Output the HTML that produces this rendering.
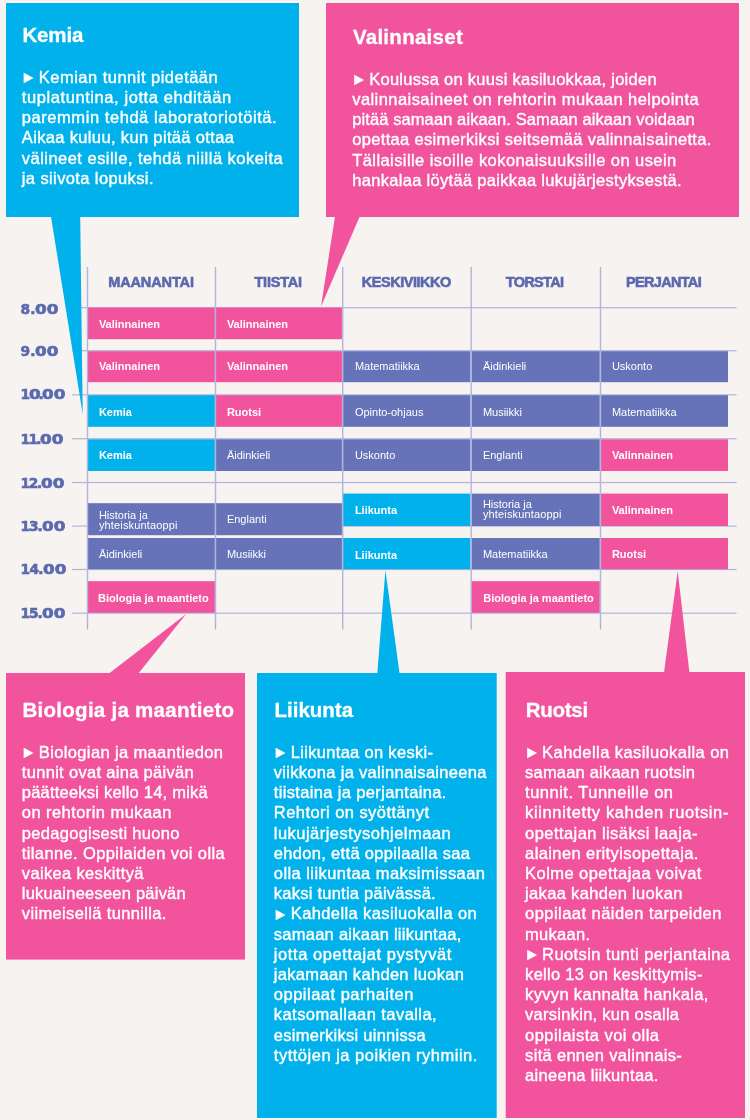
<!DOCTYPE html>
<html lang="fi">
<head>
<meta charset="utf-8">
<title>Lukujärjestys</title>
<style>

html,body,p,h2,section,div{margin:0;padding:0}
body{width:750px;height:1120px;background:#f6f3f1;position:relative;overflow:hidden;font-family:"Liberation Sans",sans-serif;color:#fff}
svg.shapes{position:absolute;left:0;top:0;width:750px;height:1120px}
.t{position:absolute;white-space:nowrap;line-height:1;margin:0}
.h{font-weight:700;font-size:20.5px;-webkit-text-stroke:0.3px #fff}
.p{font-size:16.5px;-webkit-text-stroke:0.4px #fff}
.z{display:inline-block;letter-spacing:0;transform:scaleX(1.22);transform-origin:0 50%}
.p.a{font-size:16.4px;-webkit-text-stroke:0;transform:scaleY(1.07);transform-origin:50% 100%}
.c{font-size:11px}
.c.b{font-weight:700}
.d{font-weight:700;font-size:14.5px;color:#5b69af;-webkit-text-stroke:0.6px #5b69af}
.k{font-family:"DejaVu Sans","Liberation Sans",sans-serif;font-weight:700;font-size:13.8px;color:#5b69af;-webkit-text-stroke:0.6px #5b69af}

</style>
</head>
<body>
<svg class="shapes" viewBox="0 0 750 1120" width="750" height="1120" aria-hidden="true">
<rect x="72" y="307.10" width="664.6" height="1.2" fill="#b2b4de"/>
<rect x="72" y="350.10" width="664.6" height="1.2" fill="#b2b4de"/>
<rect x="72" y="394.20" width="664.6" height="1.2" fill="#b2b4de"/>
<rect x="72" y="438.10" width="664.6" height="1.2" fill="#b2b4de"/>
<rect x="72" y="481.90" width="664.6" height="1.2" fill="#b2b4de"/>
<rect x="72" y="525.50" width="664.6" height="1.2" fill="#b2b4de"/>
<rect x="72" y="568.90" width="664.6" height="1.2" fill="#b2b4de"/>
<rect x="72" y="612.60" width="664.6" height="1.2" fill="#b2b4de"/>
<rect x="87.5" y="307.6" width="127.40" height="31.60" fill="#f1539c"/>
<rect x="215.5" y="307.6" width="126.40" height="31.60" fill="#f1539c"/>
<rect x="87.5" y="351.2" width="127.40" height="31.00" fill="#f1539c"/>
<rect x="215.5" y="351.2" width="126.40" height="31.00" fill="#f1539c"/>
<rect x="342.7" y="351.2" width="127.80" height="31.00" fill="#6673b9"/>
<rect x="471.2" y="351.2" width="128.60" height="31.00" fill="#6673b9"/>
<rect x="600.5" y="351.2" width="127.50" height="31.00" fill="#6673b9"/>
<rect x="87.5" y="395.2" width="127.40" height="31.60" fill="#00b1eb"/>
<rect x="215.5" y="395.2" width="126.40" height="31.60" fill="#f1539c"/>
<rect x="342.7" y="395.2" width="127.80" height="31.60" fill="#6673b9"/>
<rect x="471.2" y="395.2" width="128.60" height="31.60" fill="#6673b9"/>
<rect x="600.5" y="395.2" width="127.50" height="31.60" fill="#6673b9"/>
<rect x="87.5" y="439.3" width="127.40" height="31.70" fill="#00b1eb"/>
<rect x="215.5" y="439.3" width="126.40" height="31.70" fill="#6673b9"/>
<rect x="342.7" y="439.3" width="127.80" height="31.70" fill="#6673b9"/>
<rect x="471.2" y="439.3" width="128.60" height="31.70" fill="#6673b9"/>
<rect x="600.5" y="439.3" width="127.50" height="31.70" fill="#f1539c"/>
<rect x="87.5" y="503.2" width="127.40" height="32.00" fill="#6673b9"/>
<rect x="215.5" y="503.2" width="126.40" height="32.00" fill="#6673b9"/>
<rect x="342.7" y="493.6" width="127.80" height="32.40" fill="#00b1eb"/>
<rect x="471.2" y="493.6" width="128.60" height="32.40" fill="#6673b9"/>
<rect x="600.5" y="493.6" width="127.50" height="32.40" fill="#f1539c"/>
<rect x="87.5" y="538" width="127.40" height="31.20" fill="#6673b9"/>
<rect x="215.5" y="538" width="126.40" height="31.20" fill="#6673b9"/>
<rect x="342.7" y="538" width="127.80" height="31.20" fill="#00b1eb"/>
<rect x="471.2" y="538" width="128.60" height="31.20" fill="#6673b9"/>
<rect x="600.5" y="538" width="127.50" height="31.20" fill="#f1539c"/>
<rect x="87.5" y="581.2" width="127.40" height="31.60" fill="#f1539c"/>
<rect x="471.2" y="581.2" width="128.60" height="31.60" fill="#f1539c"/>
<rect x="86.80" y="267" width="1.4" height="362.6" fill="#b2b4de"/>
<rect x="214.80" y="267" width="1.4" height="362.6" fill="#b2b4de"/>
<rect x="342.00" y="267" width="1.4" height="362.6" fill="#b2b4de"/>
<rect x="470.50" y="267" width="1.4" height="362.6" fill="#b2b4de"/>
<rect x="599.80" y="267" width="1.4" height="362.6" fill="#b2b4de"/>
<rect x="6" y="3" width="293" height="214" fill="#00b1eb"/>
<polygon points="51,216.5 80.2,216.5 82.7,414" fill="#00b1eb"/>
<rect x="326" y="3" width="413" height="214" fill="#f1539c"/>
<polygon points="335,216.5 359.7,216.5 321,306.5" fill="#f1539c"/>
<rect x="6" y="673" width="239" height="286.6" fill="#f1539c"/>
<polygon points="109,673.5 138.3,673.5 186.2,614" fill="#f1539c"/>
<rect x="257" y="673" width="239.7" height="445" fill="#00b1eb"/>
<polygon points="377.3,673.5 399.6,673.5 385.4,570.2" fill="#00b1eb"/>
<rect x="505.7" y="672" width="239.3" height="446" fill="#f1539c"/>
<polygon points="664,672.5 689.4,672.5 677.7,571" fill="#f1539c"/>
</svg>
<div class="table">
<span class="t d" style="left:108.20px;top:275px;letter-spacing:-0.115px">MAANANTAI</span>
<span class="t d" style="left:254.40px;top:275px;letter-spacing:-0.196px">TIISTAI</span>
<span class="t d" style="left:361.80px;top:275px;letter-spacing:-0.467px">KESKIVIIKKO</span>
<span class="t d" style="left:505.70px;top:275px;letter-spacing:-0.652px">TORSTAI</span>
<span class="t d" style="left:626.00px;top:275px;letter-spacing:-0.676px">PERJANTAI</span>
<span class="t k" style="left:20.60px;top:303px;letter-spacing:0.02px">8.<span class="z">00</span></span>
<span class="t k" style="left:20.60px;top:345px;letter-spacing:0.02px">9.<span class="z">00</span></span>
<span class="t k" style="left:20.60px;top:388px;letter-spacing:-1.34px">1<span class="z">0</span>.<span class="z">00</span></span>
<span class="t k" style="left:20.60px;top:433px;letter-spacing:-1.72px">11.<span class="z">00</span></span>
<span class="t k" style="left:20.60px;top:477px;letter-spacing:-1.42px">12.<span class="z">00</span></span>
<span class="t k" style="left:20.60px;top:520px;letter-spacing:-1.12px">13.<span class="z">00</span></span>
<span class="t k" style="left:20.60px;top:563px;letter-spacing:-0.72px">14.<span class="z">00</span></span>
<span class="t k" style="left:20.60px;top:607px;letter-spacing:-1.12px">15.<span class="z">00</span></span>
<span class="t c b" style="left:98.90px;top:319px">Valinnainen</span>
<span class="t c b" style="left:226.90px;top:319px">Valinnainen</span>
<span class="t c b" style="left:98.90px;top:361px">Valinnainen</span>
<span class="t c b" style="left:226.90px;top:361px">Valinnainen</span>
<span class="t c" style="left:354.90px;top:361px">Matematiikka</span>
<span class="t c" style="left:482.90px;top:361px">Äidinkieli</span>
<span class="t c" style="left:611.90px;top:361px">Uskonto</span>
<span class="t c b" style="left:98.90px;top:407px">Kemia</span>
<span class="t c b" style="left:226.90px;top:407px">Ruotsi</span>
<span class="t c" style="left:354.90px;top:407px">Opinto-ohjaus</span>
<span class="t c" style="left:482.90px;top:407px">Musiikki</span>
<span class="t c" style="left:611.90px;top:407px">Matematiikka</span>
<span class="t c b" style="left:98.90px;top:450px">Kemia</span>
<span class="t c" style="left:226.90px;top:450px">Äidinkieli</span>
<span class="t c" style="left:354.90px;top:450px">Uskonto</span>
<span class="t c" style="left:482.90px;top:450px">Englanti</span>
<span class="t c b" style="left:611.90px;top:450px">Valinnainen</span>
<span class="t c" style="left:98.90px;top:510px">Historia ja</span>
<span class="t c" style="left:98.90px;top:520px;letter-spacing:0.150px">yhteiskuntaoppi</span>
<span class="t c" style="left:226.90px;top:514px">Englanti</span>
<span class="t c b" style="left:354.90px;top:505px">Liikunta</span>
<span class="t c" style="left:482.90px;top:499px">Historia ja</span>
<span class="t c" style="left:482.90px;top:509px;letter-spacing:0.150px">yhteiskuntaoppi</span>
<span class="t c b" style="left:611.90px;top:505px">Valinnainen</span>
<span class="t c" style="left:98.90px;top:549px">Äidinkieli</span>
<span class="t c" style="left:226.90px;top:549px">Musiikki</span>
<span class="t c b" style="left:354.90px;top:550px">Liikunta</span>
<span class="t c" style="left:482.90px;top:549px">Matematiikka</span>
<span class="t c b" style="left:611.90px;top:549px">Ruotsi</span>
<span class="t c b" style="left:98.10px;top:593px">Biologia ja maantieto</span>
<span class="t c b" style="left:483.20px;top:593px">Biologia ja maantieto</span>
</div>
<section class="box kemia">
<h2 class="t h" style="left:22.50px;top:25px;letter-spacing:-0.183px">Kemia</h2>
<p class="body">
<span class="t p a" style="left:20.60px;top:69.32px">►</span>
<span class="t p" style="left:38.80px;top:69px;letter-spacing:0.481px">Kemian tunnit pidetään</span>
<span class="t p" style="left:21.80px;top:89px;letter-spacing:0.582px">tuplatuntina, jotta ehditään</span>
<span class="t p" style="left:21.80px;top:109px;letter-spacing:0.559px">paremmin tehdä laboratoriotöitä.</span>
<span class="t p" style="left:21.80px;top:129px;letter-spacing:0.347px">Aikaa kuluu, kun pitää ottaa</span>
<span class="t p" style="left:21.80px;top:150px;letter-spacing:0.470px">välineet esille, tehdä niillä kokeita</span>
<span class="t p" style="left:21.80px;top:170px;letter-spacing:0.387px">ja siivota lopuksi.</span>
</p>
</section>
<section class="box valinnaiset">
<h2 class="t h" style="left:352.90px;top:27px;letter-spacing:0.279px">Valinnaiset</h2>
<p class="body">
<span class="t p a" style="left:351.00px;top:71.32px">►</span>
<span class="t p" style="left:369.20px;top:71px;letter-spacing:0.263px">Koulussa on kuusi kasiluokkaa, joiden</span>
<span class="t p" style="left:352.20px;top:91px;letter-spacing:0.440px">valinnaisaineet on rehtorin mukaan helpointa</span>
<span class="t p" style="left:352.20px;top:111px;letter-spacing:0.098px">pitää samaan aikaan. Samaan aikaan voidaan</span>
<span class="t p" style="left:352.20px;top:131px;letter-spacing:0.332px">opettaa esimerkiksi seitsemää valinnaisainetta.</span>
<span class="t p" style="left:352.20px;top:152px;letter-spacing:0.423px">Tällaisille isoille kokonaisuuksille on usein</span>
<span class="t p" style="left:352.20px;top:172px;letter-spacing:0.311px">hankalaa löytää paikkaa lukujärjestyksestä.</span>
</p>
</section>
<section class="box biologia">
<h2 class="t h" style="left:22.50px;top:700px;letter-spacing:0.271px">Biologia ja maantieto</h2>
<p class="body">
<span class="t p a" style="left:20.60px;top:744.22px">►</span>
<span class="t p" style="left:38.80px;top:744px;letter-spacing:0.366px">Biologian ja maantiedon</span>
<span class="t p" style="left:21.80px;top:764px;letter-spacing:0.308px">tunnit ovat aina päivän</span>
<span class="t p" style="left:21.80px;top:784px;letter-spacing:0.217px">päätteeksi kello 14, mikä</span>
<span class="t p" style="left:21.80px;top:804px;letter-spacing:0.437px">on rehtorin mukaan</span>
<span class="t p" style="left:21.80px;top:825px;letter-spacing:0.295px">pedagogisesti huono</span>
<span class="t p" style="left:21.80px;top:845px;letter-spacing:0.380px">tilanne. Oppilaiden voi olla</span>
<span class="t p" style="left:21.80px;top:865px;letter-spacing:0.342px">vaikea keskittyä</span>
<span class="t p" style="left:21.80px;top:885px;letter-spacing:0.224px">lukuaineeseen päivän</span>
<span class="t p" style="left:21.80px;top:905px;letter-spacing:0.352px">viimeisellä tunnilla.</span>
</p>
</section>
<section class="box liikunta">
<h2 class="t h" style="left:274.50px;top:700px">Liikunta</h2>
<p class="body">
<span class="t p a" style="left:272.60px;top:744.22px">►</span>
<span class="t p" style="left:290.80px;top:744px;letter-spacing:0.307px">Liikuntaa on keski-</span>
<span class="t p" style="left:273.80px;top:764px;letter-spacing:0.298px">viikkona ja valinnaisaineena</span>
<span class="t p" style="left:273.80px;top:784px;letter-spacing:0.351px">tiistaina ja perjantaina.</span>
<span class="t p" style="left:273.80px;top:804px;letter-spacing:0.445px">Rehtori on syöttänyt</span>
<span class="t p" style="left:273.80px;top:825px;letter-spacing:0.475px">lukujärjestysohjelmaan</span>
<span class="t p" style="left:273.80px;top:845px;letter-spacing:0.325px">ehdon, että oppilaalla saa</span>
<span class="t p" style="left:273.80px;top:865px;letter-spacing:0.434px">olla liikuntaa maksimissaan</span>
<span class="t p" style="left:273.80px;top:885px;letter-spacing:0.241px">kaksi tuntia päivässä.</span>
<span class="t p a" style="left:272.60px;top:905.82px">►</span>
<span class="t p" style="left:290.80px;top:905px;letter-spacing:0.385px">Kahdella kasiluokalla on</span>
<span class="t p" style="left:273.80px;top:926px;letter-spacing:0.260px">samaan aikaan liikuntaa,</span>
<span class="t p" style="left:273.80px;top:946px;letter-spacing:0.583px">jotta opettajat pystyvät</span>
<span class="t p" style="left:273.80px;top:966px;letter-spacing:0.321px">jakamaan kahden luokan</span>
<span class="t p" style="left:273.80px;top:986px;letter-spacing:0.495px">oppilaat parhaiten</span>
<span class="t p" style="left:273.80px;top:1006px;letter-spacing:0.440px">katsomallaan tavalla,</span>
<span class="t p" style="left:273.80px;top:1027px;letter-spacing:0.273px">esimerkiksi uinnissa</span>
<span class="t p" style="left:273.80px;top:1047px;letter-spacing:0.509px">tyttöjen ja poikien ryhmiin.</span>
</p>
</section>
<section class="box ruotsi">
<h2 class="t h" style="left:525.80px;top:700px;letter-spacing:-0.296px">Ruotsi</h2>
<p class="body">
<span class="t p a" style="left:523.90px;top:744.22px">►</span>
<span class="t p" style="left:542.10px;top:744px;letter-spacing:0.428px">Kahdella kasiluokalla on</span>
<span class="t p" style="left:525.10px;top:764px;letter-spacing:0.194px">samaan aikaan ruotsin</span>
<span class="t p" style="left:525.10px;top:784px;letter-spacing:0.493px">tunnit. Tunneille on</span>
<span class="t p" style="left:525.10px;top:804px;letter-spacing:0.623px">kiinnitetty kahden ruotsin-</span>
<span class="t p" style="left:525.10px;top:825px;letter-spacing:0.433px">opettajan lisäksi laaja-</span>
<span class="t p" style="left:525.10px;top:845px;letter-spacing:0.396px">alainen erityisopettaja.</span>
<span class="t p" style="left:525.10px;top:865px;letter-spacing:0.446px">Kolme opettajaa voivat</span>
<span class="t p" style="left:525.10px;top:885px;letter-spacing:0.329px">jakaa kahden luokan</span>
<span class="t p" style="left:525.10px;top:905px;letter-spacing:0.457px">oppilaat näiden tarpeiden</span>
<span class="t p" style="left:525.10px;top:926px;letter-spacing:0.267px">mukaan.</span>
<span class="t p a" style="left:523.90px;top:946.22px">►</span>
<span class="t p" style="left:542.10px;top:946px;letter-spacing:0.414px">Ruotsin tunti perjantaina</span>
<span class="t p" style="left:525.10px;top:966px;letter-spacing:0.293px">kello 13 on keskittymis-</span>
<span class="t p" style="left:525.10px;top:986px;letter-spacing:0.326px">kyvyn kannalta hankala,</span>
<span class="t p" style="left:525.10px;top:1006px;letter-spacing:0.266px">varsinkin, kun osalla</span>
<span class="t p" style="left:525.10px;top:1027px;letter-spacing:0.457px">oppilaista voi olla</span>
<span class="t p" style="left:525.10px;top:1047px;letter-spacing:0.308px">sitä ennen valinnais-</span>
<span class="t p" style="left:525.10px;top:1067px;letter-spacing:0.286px">aineena liikuntaa.</span>
</p>
</section>
</body>
</html>
